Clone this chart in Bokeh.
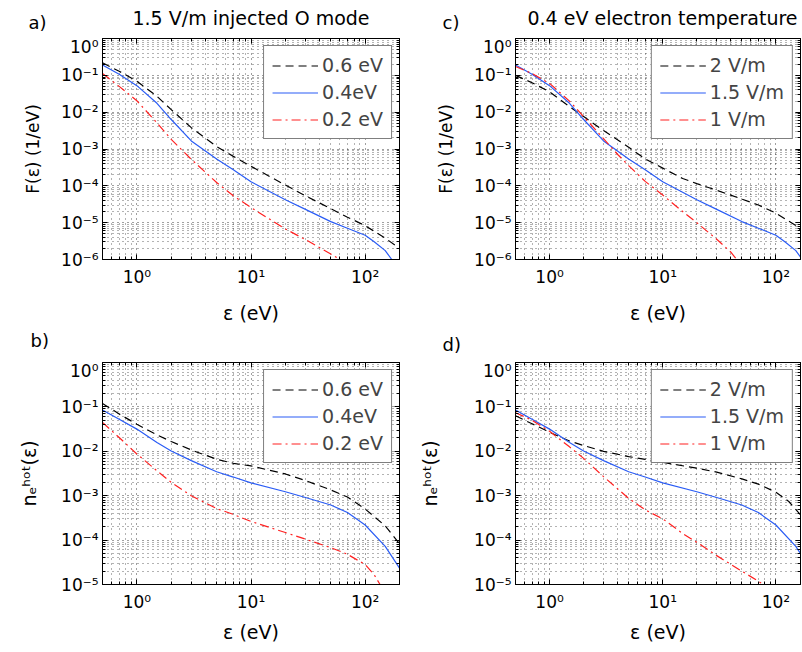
from bokeh.plotting import figure
from bokeh.models import (FixedTicker, CustomJSTickFormatter, LogAxis,
                          Legend, LegendItem, Range1d)
from bokeh.layouts import column, row
from bokeh.embed import file_html
from bokeh.resources import INLINE
from bokeh.core.properties import value

FONT = "DejaVu Sans"

# ---------------- data ----------------
# Panel a: F(eps), 1.5 V/m injected O mode
eps_a_06 = [0.5, 0.7, 1, 1.5, 2, 3, 5, 7, 10, 20, 30, 50, 70, 100, 150, 200]
F_a_06 = [2.19e-1, 1.29e-1, 6.92e-2, 2.69e-2, 1.17e-2, 3.80e-3, 1.17e-3, 6.31e-4,
          3.39e-4, 1.05e-4, 5.37e-5, 2.40e-5, 1.41e-5, 8.32e-6, 3.80e-6, 2.00e-6]

# 0.4 eV / 1.5 V/m curve (shared by panels a and c)
eps_F_04 = [0.5, 0.7, 1, 1.5, 2, 3, 5, 7, 10, 20, 30, 50, 70, 100, 120, 150, 171]
F_04 = [1.91e-1, 1.07e-1, 5.25e-2, 1.74e-2, 6.31e-3, 1.66e-3, 5.37e-4, 2.75e-4,
        1.29e-4, 4.17e-5, 2.29e-5, 1.07e-5, 7.08e-6, 4.57e-6, 3.02e-6, 1.74e-6, 1.0e-6]

eps_a_02 = [0.5, 0.7, 1, 1.5, 2, 3, 5, 7, 10, 20, 30, 50, 60]
F_a_02 = [1.12e-1, 5.01e-2, 2.04e-2, 5.13e-3, 1.82e-3, 5.25e-4, 1.23e-4, 5.37e-5,
          2.57e-5, 6.76e-6, 3.47e-6, 1.41e-6, 1.0e-6]

# Panel c: F(eps), 0.4 eV electron temperature
eps_c_2 = [0.5, 0.7, 1, 1.5, 2, 3, 5, 7, 10, 15, 20, 30, 50, 70, 100, 150, 170]
F_c_2 = [1.0e-1, 6.31e-2, 3.55e-2, 1.41e-2, 7.59e-3, 3.16e-3, 1.12e-3, 5.37e-4,
         3.02e-4, 1.58e-4, 1.15e-4, 7.59e-5, 4.37e-5, 3.02e-5, 1.82e-5, 8.32e-6, 5.75e-6]

eps_c_1 = [0.5, 0.7, 1, 1.5, 2, 3, 4, 5, 7, 10, 15, 20, 30, 40, 45]
F_c_1 = [1.74e-1, 1.12e-1, 6.03e-2, 2.00e-2, 7.59e-3, 1.91e-3, 7.08e-4, 3.55e-4,
         1.32e-4, 5.62e-5, 2.0e-5, 1.0e-5, 3.55e-6, 1.58e-6, 1.0e-6]

# Panel b: n_e^hot(eps), 1.5 V/m injected O mode
eps_b_06 = [0.5, 0.7, 1, 1.5, 2, 3, 5, 7, 10, 20, 30, 50, 70, 100, 150, 200]
N_b_06 = [1.20e-1, 6.92e-2, 4.07e-2, 2.34e-2, 1.66e-2, 1.07e-2, 6.61e-3, 5.37e-3,
          4.68e-3, 3.09e-3, 2.19e-3, 1.35e-3, 9.33e-4, 5.01e-4, 2.09e-4, 8.32e-5]

# 0.4 eV / 1.5 V/m curve (shared by panels b and d)
eps_N_04 = [0.5, 0.7, 1, 1.5, 2, 3, 5, 7, 10, 20, 30, 50, 70, 100, 150, 200]
N_04 = [8.51e-2, 5.25e-2, 3.16e-2, 1.58e-2, 1.02e-2, 6.17e-3, 3.47e-3, 2.63e-3,
        1.95e-3, 1.23e-3, 9.12e-4, 6.17e-4, 4.17e-4, 2.19e-4, 7.24e-5, 2.34e-5]

eps_b_02 = [0.5, 0.7, 1, 1.5, 2, 3, 5, 7, 10, 20, 30, 50, 70, 100, 120, 135]
N_b_02 = [4.47e-2, 2.04e-2, 8.71e-3, 3.63e-3, 2.0e-3, 1.0e-3, 5.13e-4, 3.80e-4,
          2.63e-4, 1.48e-4, 1.05e-4, 6.76e-5, 4.79e-5, 2.82e-5, 1.66e-5, 1.0e-5]

# Panel d: n_e^hot(eps), 0.4 eV electron temperature
eps_d_2 = [0.5, 0.7, 1, 1.5, 2, 3, 5, 7, 10, 20, 30, 50, 70, 100, 130, 170]
N_d_2 = [6.31e-2, 4.17e-2, 2.69e-2, 1.70e-2, 1.35e-2, 1.0e-2, 7.59e-3, 6.61e-3,
         5.62e-3, 4.17e-3, 3.39e-3, 2.40e-3, 1.82e-3, 1.20e-3, 7.41e-4, 3.39e-4]

eps_d_1 = [0.5, 0.7, 1, 1.5, 2, 3, 5, 7, 10, 15, 20, 30, 50, 78]
N_d_1 = [7.41e-2, 5.01e-2, 2.82e-2, 1.26e-2, 6.92e-3, 2.69e-3, 8.71e-4, 4.79e-4,
         3.02e-4, 1.41e-4, 8.91e-5, 4.47e-5, 2.0e-5, 1.0e-5]

labels_T = ["0.6 eV", "0.4eV", "0.2 eV"]
labels_E = ["2 V/m", "1.5 V/m", "1 V/m"]
titles = ["1.5 V/m injected O mode", "0.4 eV electron temperature"]
letters = ["a)", "b)", "c)", "d)"]
ylabel_F = "F(ε) (1/eV)"
ylabel_N = "nₑʰᵒᵗ(ε)"
xlabel = "ε (eV)"

# ---------------- ticks ----------------
X_TICKS = [1, 10, 100]
X_MINOR = [0.5, 0.6, 0.7, 0.8, 0.9, 2, 3, 4, 5, 6, 7, 8, 9,
           20, 30, 40, 50, 60, 70, 80, 90, 200]
F_TICKS = [1e-6, 1e-5, 1e-4, 1e-3, 1e-2, 1e-1, 1]
N_TICKS = [1e-5, 1e-4, 1e-3, 1e-2, 1e-1, 1]


def minors(ticks):
    return [m * t for t in ticks[:-1] for m in range(2, 10)]


JS_FMT = """
const e = Math.round(Math.log10(tick));
const m = {"-": "\\u207b", "0": "\\u2070", "1": "\\u00b9", "2": "\\u00b2", "3": "\\u00b3",
           "4": "\\u2074", "5": "\\u2075", "6": "\\u2076", "7": "\\u2077", "8": "\\u2078", "9": "\\u2079"};
let s = "";
for (const c of String(e)) { s += m[c]; }
return "10" + s;
"""

COL_K = "black"
COL_B = "#2a5cf5"
COL_R = "#ff2020"


def make_panel(width, height, bl, br, bt, bb, x_end, y_ticks, ylabel, ylab_size,
               ylab_standoff, xlab_standoff):
    p = figure(width=width, height=height, x_axis_type="log", y_axis_type="log",
               x_range=Range1d(0.5, x_end), y_range=Range1d(y_ticks[0], y_ticks[-1]),
               output_backend="svg", toolbar_location=None,
               min_border_left=bl, min_border_right=br,
               min_border_top=bt, min_border_bottom=bb,
               background_fill_color="white", border_fill_color="white")
    p.outline_line_color = "black"
    p.outline_line_width = 1
    xt = FixedTicker(ticks=X_TICKS, minor_ticks=X_MINOR)
    yt = FixedTicker(ticks=y_ticks, minor_ticks=minors(y_ticks))
    p.xaxis.ticker = xt
    p.yaxis.ticker = yt
    p.xgrid.ticker = xt
    p.ygrid.ticker = yt
    for ax in (p.xaxis[0], p.yaxis[0]):
        ax.formatter = CustomJSTickFormatter(code=JS_FMT)
        ax.major_tick_in = 5
        ax.major_tick_out = 0
        ax.minor_tick_in = 3
        ax.minor_tick_out = 0
        ax.axis_line_color = "black"
        ax.major_tick_line_color = "black"
        ax.minor_tick_line_color = "black"
        ax.major_label_text_font = FONT
        ax.major_label_text_font_size = "17px"
        ax.major_label_text_color = "black"
        ax.axis_label_text_font = FONT
        ax.axis_label_text_font_style = "normal"
        ax.axis_label_text_color = "black"
    p.xaxis.major_label_standoff = 7
    p.yaxis.major_label_standoff = 4
    p.xaxis.axis_label = xlabel
    p.xaxis.axis_label_text_font_size = "19px"
    p.xaxis.axis_label_standoff = xlab_standoff
    p.yaxis.axis_label = ylabel
    p.yaxis.axis_label_text_font_size = ylab_size
    p.yaxis.axis_label_standoff = ylab_standoff
    for g in (p.xgrid[0], p.ygrid[0]):
        g.grid_line_color = "black"
        g.grid_line_alpha = 0.75
        g.grid_line_dash = "1 4"
        g.grid_line_width = 1
        g.minor_grid_line_color = "black"
        g.minor_grid_line_alpha = 0.6
        g.minor_grid_line_dash = "1 4"
        g.minor_grid_line_width = 1
    # box ticks on right and top
    for tk, side in ((yt, "right"), (xt, "above")):
        ax = LogAxis(ticker=tk, formatter=CustomJSTickFormatter(code="return ''"),
                     major_tick_in=5, major_tick_out=0, minor_tick_in=3, minor_tick_out=0,
                     major_label_standoff=0, axis_line_color="black",
                     major_label_text_font_size="1px")
        p.add_layout(ax, side)
    return p


def add_curves(p, curves, labels):
    styles = [(COL_K, "8 5"), (COL_B, "solid"), (COL_R, "9 4 2 4")]
    items = []
    for (xs, ys), lab, (c, d) in zip(curves, labels, styles):
        r = p.line(xs, ys, line_color=c, line_width=1.2, line_dash=d)
        items.append(LegendItem(label=value(lab), renderers=[r]))
    leg = Legend(items=items, location="top_right", margin=7, padding=8,
                 spacing=5, glyph_width=46, glyph_height=21, label_height=21,
                 label_standoff=4, label_text_font=FONT, label_text_font_size="19px",
                 border_line_color="black", border_line_width=1,
                 background_fill_color="white", background_fill_alpha=1.0)
    p.add_layout(leg)


def make_header(width, height, texts):
    h = figure(width=width, height=height, x_range=Range1d(0, width),
               y_range=Range1d(0, height), output_backend="svg", toolbar_location=None,
               x_axis_location=None, y_axis_location=None,
               min_border=0, min_border_left=0, min_border_right=0,
               min_border_top=0, min_border_bottom=0,
               outline_line_color=None, background_fill_color="white",
               border_fill_color="white")
    h.grid.visible = False
    for x, y, t, size, align in texts:
        h.text(x=[x], y=[y], text=[t], text_font=value(FONT),
               text_font_size=value(f"{size}px"), text_align=align,
               text_baseline="alphabetic", text_color="black")
    return h


W_TOTAL = 801

# ---------------- panels ----------------
head1 = make_header(W_TOTAL, 36, [
    (28, 14, letters[0], 18, "left"),
    (250.5, 19, titles[0], 19, "center"),
    (442, 14, letters[2], 18, "left"),
    (662, 19, titles[1], 19, "center"),
])

fa = make_panel(408, 290, 102, 9, 2, 66, 200, F_TICKS, ylabel_F, "17px", 15, 12)
add_curves(fa, [(eps_a_06, F_a_06), (eps_F_04, F_04), (eps_a_02, F_a_02)], labels_T)

fc = make_panel(393, 290, 107, 1, 2, 66, 165, F_TICKS, ylabel_F, "17px", 15, 12)
add_curves(fc, [(eps_c_2, F_c_2), (eps_F_04, F_04), (eps_c_1, F_c_1)], labels_E)

head2 = make_header(W_TOTAL, 34, [
    (30, 20, letters[1], 18, "left"),
    (442, 16, letters[3], 18, "left"),
])

fb = make_panel(408, 291, 102, 9, 2, 67, 200, N_TICKS, ylabel_N, "19px", 18, 6)
add_curves(fb, [(eps_b_06, N_b_06), (eps_N_04, N_04), (eps_b_02, N_b_02)], labels_T)

fd = make_panel(393, 291, 107, 1, 2, 67, 165, N_TICKS, ylabel_N, "19px", 30, 6)
add_curves(fd, [(eps_d_2, N_d_2), (eps_N_04, N_04), (eps_d_1, N_d_1)], labels_E)

layout = column(head1, row(fa, fc), head2, row(fb, fd))

with open("out.html", "w", encoding="utf-8") as f:
    f.write(file_html(layout, INLINE))
